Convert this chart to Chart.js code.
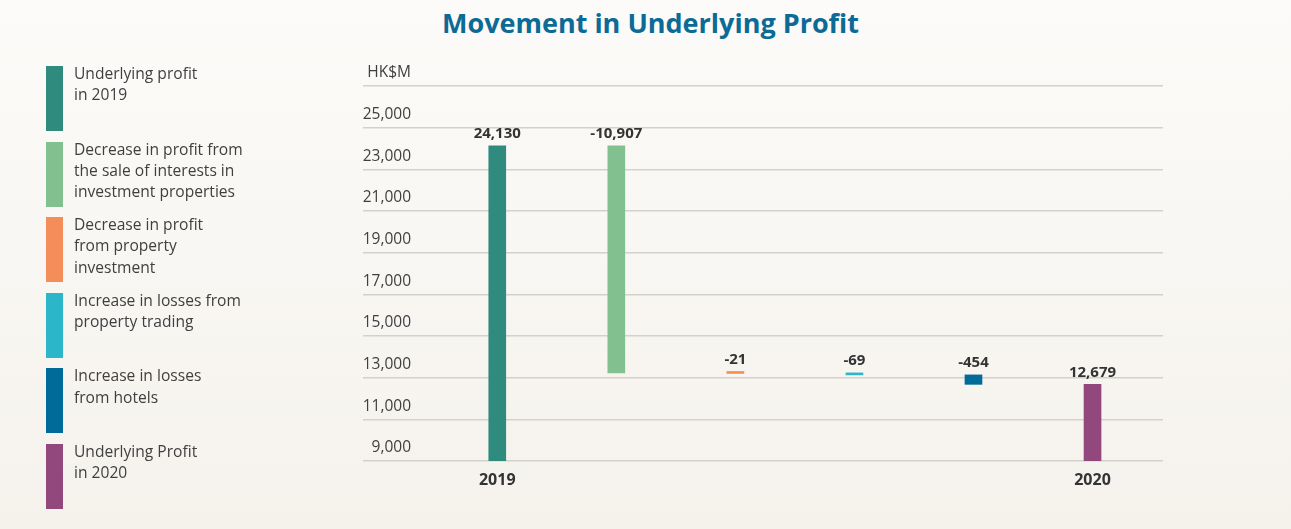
<!DOCTYPE html>
<html>
<head>
<meta charset="utf-8">
<script src="https://cdn.jsdelivr.net/npm/chart.js@4.4.1/dist/chart.umd.min.js"></script>
<style>
  html, body { margin: 0; padding: 0; }
  body {
    width: 1291px; height: 529px; overflow: hidden; position: relative;
    background: linear-gradient(#fcfbf9, #f5f2ec);
    font-family: "Open Sans", sans-serif;
  }
  #title {
    position: absolute; left: 5px; top: 4px; width: 1291px;
    text-align: center; font-size: 27px; font-weight: 700; color: #0b6a96;
  }
  #wrap { position: absolute; left: 0; top: 0; width: 1291px; height: 529px; }
  #legend { position: absolute; left: 46px; top: 66px; }
  .item { position: relative; height: 65px; margin-bottom: 10.6px; }
  .box { position: absolute; left: 0; top: 0; width: 17px; height: 65px; }
  .txt {
    position: absolute; left: 28px; top: -3px; width: 200px;
    font-size: 15.6px; line-height: 21.3px; color: #3f3f3f; white-space: pre;
  }
</style>
</head>
<body>
<div id="title">Movement in Underlying Profit</div>
<div id="wrap"><canvas id="myChart"></canvas></div>
<div id="legend"></div>
<script>
// --- data ---
let steps = ["Underlying profit\nin 2019",
             "Decrease in profit from\nthe sale of interests in\ninvestment properties",
             "Decrease in profit\nfrom property\ninvestment",
             "Increase in losses from\nproperty trading",
             "Increase in losses\nfrom hotels",
             "Underlying Profit\nin 2020"];
let changes = [24130, -10907, -21, -69, -454, 12679];
let isTotal = [true, false, false, false, false, true];
let xTickLabels = ["2019", "", "", "", "", "2020"];
let colors = ["#2e8b7e", "#82c18f", "#f58d5a", "#2bb6c9", "#006a98", "#92487c"];

function fmt(v) {
  let s = String(Math.abs(v)).replace(/\B(?=(\d{3})+(?!\d))/g, ",");
  return v < 0 ? "-" + s : s;
}

// waterfall ranges
let ranges = [];
let running = 0;
changes.forEach((c, i) => {
  if (isTotal[i]) {
    ranges.push([0, c]);
    running = c;
  } else {
    ranges.push([running + c, running]);
    running = running + c;
  }
});

// ---- legend ----
let leg = document.getElementById("legend");
steps.forEach((s, i) => {
  let d = document.createElement("div");
  d.className = "item";
  d.innerHTML = '<div class="box" style="background:' + colors[i] + '"></div><div class="txt"></div>';
  d.querySelector(".txt").textContent = s;
  leg.appendChild(d);
});

let barLabels = {
  id: "barLabels",
  afterDatasetsDraw(chart) {
    let ctx = chart.ctx;
    let meta = chart.getDatasetMeta(0);
    ctx.save();
    ctx.font = "bold 15px 'Open Sans'";
    ctx.fillStyle = "#333333";
    ctx.textAlign = "center";
    ctx.textBaseline = "middle";
    meta.data.forEach((el, i) => {
      let top = Math.min(el.y, el.base);
      ctx.fillText(fmt(changes[i]), el.x, top - 12);
    });
    ctx.restore();
  }
};

new Chart("myChart", {
  type: "bar",
  data: {
    datasets: [{
      data: ranges.map((r, i) => ({ x: i, y: r })),
      backgroundColor: colors,
      barThickness: 17,
      minBarLength: 2
    }]
  },
  options: {
    responsive: true,
    maintainAspectRatio: false,
    animation: false,
    layout: { padding: { left: 363, right: 128, top: 86, bottom: 28 } },
    plugins: { legend: { display: false }, tooltip: { enabled: false } },
    scales: {
      x: {
        type: "linear",
        offset: false,
        min: -0.649,
        max: 5.592,
        grid: { display: false, drawTicks: false },
        border: { display: false },
        afterBuildTicks: (axis) => { axis.ticks = xTickLabels.map((t, i) => ({ value: i })); },
        afterFit: (s) => { s.height = 40; },
        ticks: {
          autoSkip: false, maxRotation: 0, padding: 10,
          color: "#333333",
          font: { family: "Open Sans", size: 16, weight: "bold" },
          callback: (v) => xTickLabels[v]
        }
      },
      y: {
        min: 9000,
        max: 27000,
        afterFit: (s) => { s.width = 57; },
        border: { display: false },
        grid: { color: "#d3d1cd", lineWidth: 1.5, drawTicks: true, tickLength: 57 },
        ticks: {
          stepSize: 2000,
          padding: -48,
          labelOffset: -13,
          color: "#3f3f3f",
          font: { family: "Open Sans", size: 15.5 },
          callback: (v) => v === 27000 ? "HK$M" : fmt(v)
        }
      }
    }
  },
  plugins: [barLabels]
});
</script>
</body>
</html>
